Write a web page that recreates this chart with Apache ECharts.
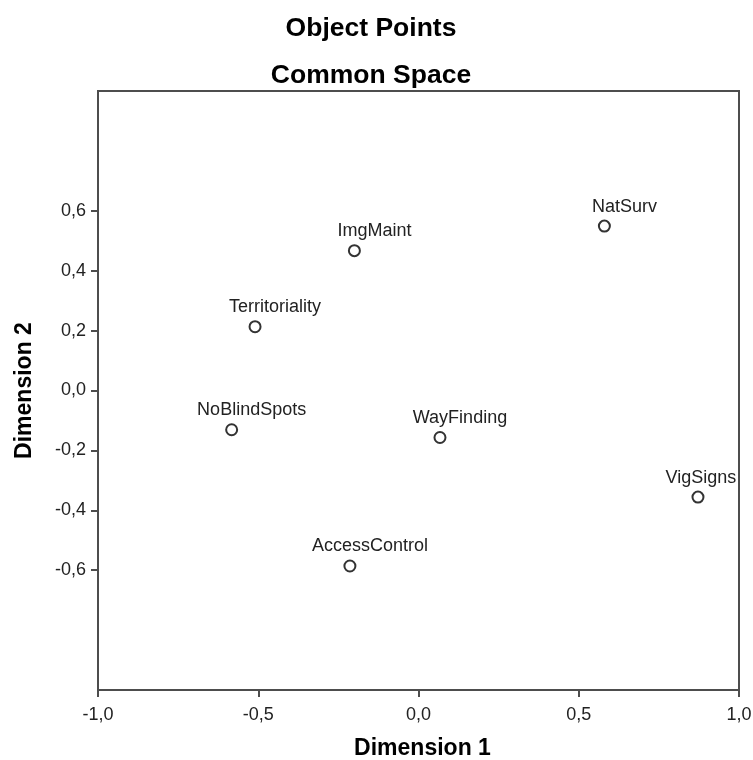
<!DOCTYPE html>
<html>
<head>
<meta charset="utf-8">
<script src="https://cdn.jsdelivr.net/npm/echarts@6/dist/echarts.min.js"></script>
<style>
html,body{margin:0;padding:0;background:#fff;}
#chart{width:753px;height:760px;}
</style>
</head>
<body>
<div id="chart"></div>
<script>
// Data
const names = ['NatSurv','ImgMaint','Territoriality','NoBlindSpots','WayFinding','VigSigns','AccessControl'];
const dim1 = [0.58, -0.20, -0.51, -0.583, 0.067, 0.872, -0.214];
const dim2 = [0.549, 0.467, 0.213, -0.131, -0.157, -0.356, -0.586];
const xTicks = [-1.0, -0.5, 0.0, 0.5, 1.0];
const yTicks = [-0.6, -0.4, -0.2, 0.0, 0.2, 0.4, 0.6];

const FONT = '"Liberation Sans", Arial, sans-serif';
const fmt = v => (Math.abs(v) < 1e-9 ? 0 : v).toFixed(1).replace('.', ',');
const inList = (list, v) => list.some(t => Math.abs(t - v) < 1e-6);

// labels sit slightly right of their point; the last one is kept inside the frame
const points = names.map((n, i) => ({
  name: n,
  value: [dim1[i], dim2[i]],
  label: { offset: [n === 'VigSigns' ? 3 : 20, 0] }
}));

const chart = echarts.init(document.getElementById('chart'), null, { renderer: 'canvas' });
chart.setOption({
  animation: false,
  backgroundColor: '#ffffff',
  title: [
    { text: 'Object Points', left: 366, top: 10, textAlign: 'center',
      textStyle: { fontFamily: FONT, fontSize: 26.5, fontWeight: 'bold', color: '#000' } },
    { text: 'Common Space', left: 366, top: 57, textAlign: 'center',
      textStyle: { fontFamily: FONT, fontSize: 26.5, fontWeight: 'bold', color: '#000' } }
  ],
  grid: {
    left: 98, right: 14, top: 91, bottom: 70,
    outerBoundsMode: 'none', containLabel: false,
    show: true, borderColor: '#4d4d4d', borderWidth: 2, backgroundColor: '#fff'
  },
  xAxis: {
    type: 'value', min: -1, max: 1, interval: 0.5,
    name: 'Dimension 1', nameLocation: 'middle', nameGap: 47,
    nameTextStyle: { fontFamily: FONT, fontSize: 23, fontWeight: 'bold', color: '#000', padding: [0, 0, 0, 8] },
    axisLine: { show: true, onZero: false, lineStyle: { color: '#4d4d4d', width: 2 } },
    axisTick: { show: true, inside: false, length: 7, lineStyle: { color: '#4d4d4d', width: 2 } },
    axisLabel: { margin: 16, fontFamily: FONT, fontSize: 18, color: '#222', formatter: v => fmt(v) },
    splitLine: { show: false }
  },
  yAxis: {
    type: 'value', min: -1, max: 1, interval: 0.2,
    name: 'Dimension 2', nameLocation: 'middle', nameGap: 62, nameRotate: 90,
    nameTextStyle: { fontFamily: FONT, fontSize: 23, fontWeight: 'bold', color: '#000' },
    axisLine: { show: true, onZero: false, lineStyle: { color: '#4d4d4d', width: 2 } },
    axisTick: { show: true, inside: false, length: 7, customValues: yTicks, lineStyle: { color: '#4d4d4d', width: 2 } },
    axisLabel: { margin: 12, fontFamily: FONT, fontSize: 18, color: '#222', customValues: yTicks,
      formatter: v => inList(yTicks, v) ? fmt(v) : '' },
    splitLine: { show: false }
  },
  series: [{
    type: 'scatter',
    data: points,
    symbol: 'circle',
    symbolSize: 11,
    itemStyle: { color: '#ffffff', borderColor: '#333333', borderWidth: 2, opacity: 1 },
    label: {
      show: true, position: 'top', distance: 4,
      fontFamily: FONT, fontSize: 18, color: '#222',
      formatter: p => p.name
    },
    emphasis: { disabled: true }
  }]
});
</script>
</body>
</html>
